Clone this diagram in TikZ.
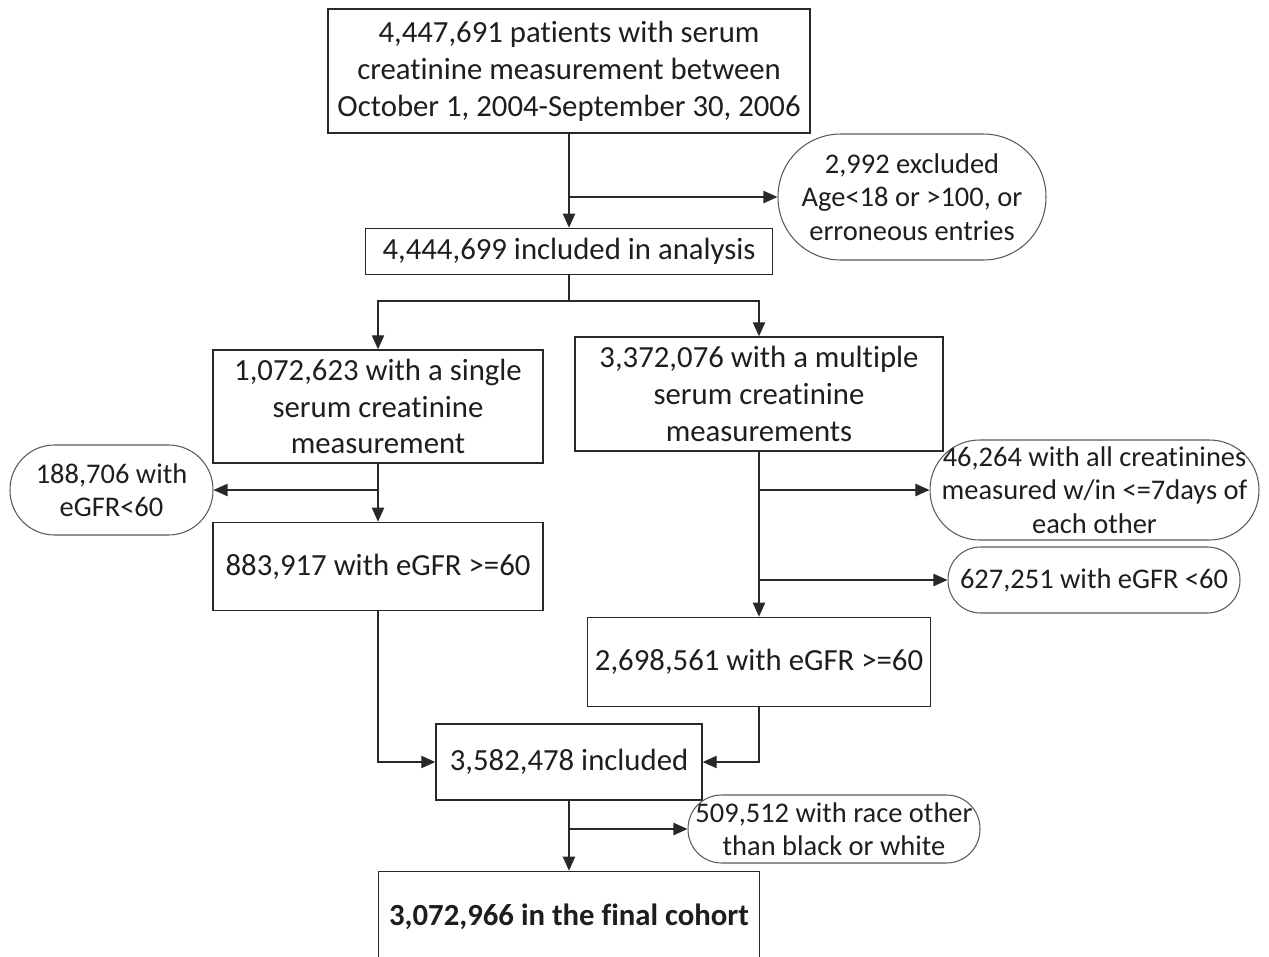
\documentclass[tikz,border=0pt]{standalone}
\usepackage{fontspec}
\setmainfont{Carlito}[Ligatures={NoCommon}]
\usepackage{tikz}
\usetikzlibrary{arrows.meta, positioning, calc}
\definecolor{mydark}{RGB}{30,30,30}
\definecolor{myline}{RGB}{40,40,40}
\definecolor{myoval}{RGB}{90,90,90}
\tikzset{
  block/.style={rectangle, draw=myline, fill=white, align=center,
    inner sep=0pt, line width=0.8pt, text=mydark,
    font=\fontsize{17.5}{21}\selectfont},
  exclbox/.style={rectangle, draw=myoval, fill=white, align=center,
    inner sep=0pt, line width=0.6pt, text=mydark, rounded corners=#1,
    font=\fontsize{16.2}{19}\selectfont},
  arrow/.style={-{Triangle[length=8pt,width=7pt]}, line width=0.8pt, color=myline}
}

\begin{document}
\begin{tikzpicture}[x=0.02cm, y=-0.02cm]
  \useasboundingbox (0,0) rectangle (1269,957);
  \clip (0,0) rectangle (1269,957);

  % Main column
  \node[block, minimum width=9.64cm, minimum height=2.48cm] (total) at (569,71)
    {4,447,691 patients with serum\\creatinine measurement between\\October 1, 2004-September 30, 2006};
  \node[block, minimum width=8.14cm, minimum height=0.92cm, below=1.88cm of total] (incl)
    {4,444,699 included in analysis};

  % Two branches
  \node[block, minimum width=6.6cm, minimum height=2.26cm] (single) at (378,406.5)
    {1,072,623 with a single\\serum creatinine\\measurement};
  \node[block, minimum width=7.36cm, minimum height=2.28cm] (multi) at (759,394)
    {3,372,076 with a multiple\\serum creatinine\\measurements};
  \node[block, minimum width=6.6cm, minimum height=1.76cm, below=1.16cm of single] (oksingle)
    {883,917 with eGFR >=60};
  \node[block, minimum width=6.86cm, minimum height=1.78cm, below=3.3cm of multi] (okmulti)
    {2,698,561 with eGFR >=60};

  % Merge
  \node[block, minimum width=5.32cm, minimum height=1.52cm] (merged) at (569,762)
    {3,582,478 included};
  \node[block, minimum width=7.62cm, minimum height=1.8cm, below=1.4cm of merged] (final)
    {\textbf{3,072,966 in the final cohort}};

  % Exclusions
  \node[exclbox=1.25cm, minimum width=5.36cm, minimum height=2.52cm] (agexcl) at (912,197)
    {2,992 excluded\\Age<18 or >100, or\\erroneous entries};
  \node[exclbox=0.89cm, minimum width=4.06cm, minimum height=1.8cm] (lowsingle) at (111.5,490)
    {188,706 with\\eGFR<60};
  \node[exclbox=0.99cm, minimum width=6.58cm, minimum height=2.0cm] (shortint) at (1094.5,490)
    {46,264 with all creatinines\\measured w/in <=7days of\\each other};
  \node[exclbox=0.65cm, minimum width=5.84cm, minimum height=1.32cm] (lowmulti) at (1094,580)
    {627,251 with eGFR <60};
  \node[exclbox=0.67cm, minimum width=5.84cm, minimum height=1.36cm] (race) at (834,829)
    {509,512 with race other\\than black or white};

  \coordinate (split) at ($(incl.south)+(0,26)$);

  % Arrows
  \draw[arrow] (total) -- (incl);
  \draw[arrow] (total.south |- agexcl.west) -- (agexcl.west);
  \draw[line width=0.8pt, color=myline] (incl.south) -- (split);
  \draw[arrow] (split) -| (single.north);
  \draw[arrow] (split) -| (multi.north);

  \draw[arrow] (single) -- (oksingle);
  \draw[arrow] (single.south |- lowsingle.east) -- (lowsingle.east);

  \draw[arrow] (multi) -- (okmulti);
  \draw[arrow] (multi.south |- shortint.west) -- (shortint.west);
  \draw[arrow] (multi.south |- lowmulti.west) -- (lowmulti.west);

  \draw[arrow] (oksingle.south) |- (merged.west);
  \draw[arrow] (okmulti.south) |- (merged.east);

  \draw[arrow] (merged) -- (final);
  \draw[arrow] (merged.south |- race.west) -- (race.west);
\end{tikzpicture}
\end{document}
